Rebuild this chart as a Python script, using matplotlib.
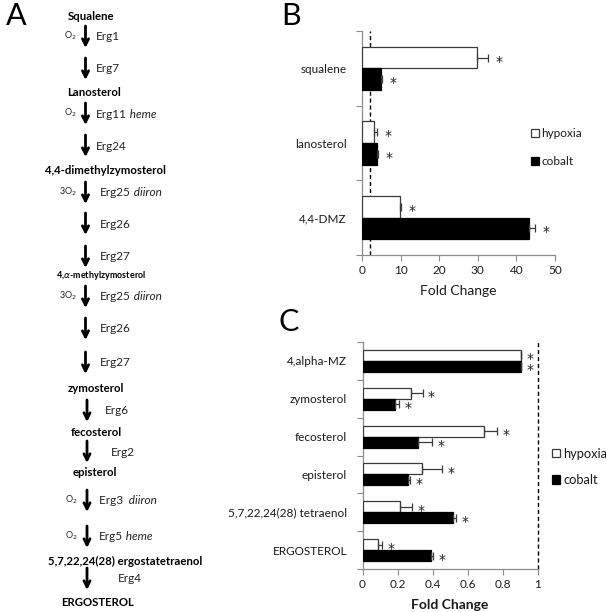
import numpy as np
import matplotlib
matplotlib.use('Agg')
import matplotlib.pyplot as plt

plt.rcParams['font.family'] = ['Lato', 'DejaVu Sans']

# panel B
B_CATS = ['squalene', 'lanosterol', '4,4-DMZ']
B_HYP = [29.7, 3.1, 9.8]
B_HYP_ERR = [3.0, 0.7, 0.4]
B_COB = [5.0, 3.8, 43.2]
B_COB_ERR = [0.3, 0.4, 1.6]
B_TICKS = [0, 10, 20, 30, 40, 50]
B_CUTOFF = 2

# panel C
C_CATS = ['4,alpha-MZ', 'zymosterol', 'fecosterol', 'episterol',
          '5,7,22,24(28) tetraenol', 'ERGOSTEROL']
C_HYP = [0.905, 0.276, 0.697, 0.341, 0.217, 0.090]
C_HYP_ERR = [0.0, 0.067, 0.069, 0.116, 0.065, 0.024]
C_COB = [0.905, 0.185, 0.318, 0.259, 0.516, 0.392]
C_COB_ERR = [0.0, 0.021, 0.080, 0.010, 0.017, 0.010]
C_TICKS = [0, 0.2, 0.4, 0.6, 0.8, 1]
C_TICKLABELS = ['0', '0.2', '0.4', '0.6', '0.8', '1']
C_CUTOFF = 1

# panel A pathway: (kind, content, y in pixels from top)
PATHWAY = [
    ('cpd', 'Squalene', 16),
    ('step', ('O$_2$', 'Erg1', ''), 26),
    ('step', ('', 'Erg7', ''), 58),
    ('cpd', 'Lanosterol', 93),
    ('step', ('O$_2$', 'Erg11', 'heme'), 103),
    ('step', ('', 'Erg24', ''), 135),
    ('cpd', '4,4-dimethylzymosterol', 170),
    ('step', ('3O$_2$', 'Erg25', 'diiron'), 182),
    ('step', ('', 'Erg26', ''), 213),
    ('step', ('', 'Erg27', ''), 246),
    ('cpdsmall', r'4,$\alpha$-methylzymosterol', 276),
    ('step', ('3O$_2$', 'Erg25', 'diiron'), 286),
    ('step', ('', 'Erg26', ''), 318),
    ('step', ('', 'Erg27', ''), 352),
    ('cpd', 'zymosterol', 389),
    ('step2', ('', 'Erg6', ''), 400),
    ('cpd', 'fecosterol', 432),
    ('step2', ('', 'Erg2', ''), 441),
    ('cpd', 'episterol', 472),
    ('step2', ('O$_2$', 'Erg3 ', 'diiron'), 490),
    ('step2', ('O$_2$', 'Erg5', 'heme'), 526),
    ('cpd', '5,7,22,24(28) ergostatetraenol', 561),
    ('step2', ('', 'Erg4', ''), 568),
    ('cpd', 'ERGOSTEROL', 603),
]
CPD_X = {'Squalene': 91, 'Lanosterol': 94, '4,4-dimethylzymosterol': 105,
         r'4,$\alpha$-methylzymosterol': 101, 'zymosterol': 96,
         'fecosterol': 96, 'episterol': 95,
         '5,7,22,24(28) ergostatetraenol': 125, 'ERGOSTEROL': 98}
ENZ_X = {'Erg1': 96, 'Erg7': 96, 'Erg11': 96, 'Erg24': 96, 'Erg25': 100,
         'Erg26': 100, 'Erg27': 100, 'Erg6': 105, 'Erg2': 111, 'Erg3 ': 99,
         'Erg5': 99, 'Erg4': 118}

W, H = 606, 612
fig = plt.figure(figsize=(W / 100, H / 100), dpi=100)

TXT = '#1a1a1a'
SPINE = '#8c8c8c'

# ---------- panel A ----------
axa = fig.add_axes([0, 0, 1, 1])
axa.set_xlim(0, W)
axa.set_ylim(H, 0)
axa.axis('off')
axa.text(16, 16, 'A', fontsize=22, ha='center', va='center', color='k')
axa.text(291, 16, 'B', fontsize=22, ha='center', va='center', color='k')
axa.text(289, 322, 'C', fontsize=22, ha='center', va='center', color='k')

for kind, txt, y in PATHWAY:
    if kind.startswith('cpd'):
        fs = 6.5 if kind == 'cpdsmall' else 8.2
        axa.text(CPD_X[txt], y, txt, fontsize=fs, fontweight='bold',
                 ha='center', va='center', color='k')
    else:
        ox, enz, cof = txt
        ax_x = 85.5 if kind == 'step' else 87
        axa.annotate('', xy=(ax_x, y + 22), xytext=(ax_x, y),
                     arrowprops=dict(arrowstyle='->', lw=2.0, color='k',
                                     mutation_scale=11, shrinkA=0, shrinkB=0))
        ym = y + 11
        if ox:
            axa.text(ax_x - 9, ym - 1, ox, fontsize=6.5, ha='right',
                     va='center', color='#222')
        t = axa.text(ENZ_X[enz], ym, enz, fontsize=8.5, ha='left',
                     va='center', color='#222')
        if cof:
            axa.annotate(' ' + cof, xycoords=t, xy=(1, 0.5), va='center',
                         ha='left', fontsize=8.5, style='italic', color='#222')


def style_axis(ax, lsize):
    for s in ['top', 'right']:
        ax.spines[s].set_visible(False)
    for s in ['left', 'bottom']:
        ax.spines[s].set_color(SPINE)
        ax.spines[s].set_linewidth(0.9)
    ax.tick_params(axis='both', which='major', color=SPINE, length=4,
                   direction='out', labelcolor=TXT, labelsize=8.5)
    ax.tick_params(axis='y', which='major', labelleft=False)
    ax.tick_params(axis='y', which='minor', length=0, pad=11,
                   labelcolor=TXT, labelsize=lsize)


def draw_bars(ax, hyp, hyp_err, cob, cob_err, off):
    n = len(hyp)
    y = np.arange(n)
    h = 0.29
    ax.barh(y - h / 2, hyp, height=h, color='white', edgecolor='#3a3a3a',
            linewidth=0.9, label='hypoxia', zorder=3)
    ax.barh(y + h / 2, cob, height=h, color='black', edgecolor='black',
            linewidth=0.9, label='cobalt', zorder=3)
    for yy, v, e in [(y - h / 2, hyp, hyp_err), (y + h / 2, cob, cob_err)]:
        v = np.array(v)
        e = np.array(e)
        ax.errorbar(v, yy, xerr=[np.zeros(n), e], fmt='none', ecolor='#3a3a3a',
                    elinewidth=0.9, capsize=3, capthick=0.9, zorder=4)
        for xi, yi, ei in zip(v, yy, e):
            ax.annotate('*', xy=(xi + ei, yi), xytext=(off, -8),
                        textcoords='offset pixels', ha='center', va='baseline',
                        fontsize=10, family='DejaVu Sans', color='#222')
    ax.set_ylim(n - 0.5, -0.5)
    ax.set_yticks(np.arange(n + 1) - 0.5)
    ax.set_yticks(y, minor=True)


# ---------- panel B ----------
axb = fig.add_axes([362 / W, 1 - 255 / H, 193 / W, 224 / H])
draw_bars(axb, B_HYP, B_HYP_ERR, B_COB, B_COB_ERR, 11)
axb.set_yticklabels(B_CATS, minor=True)
axb.set_xlim(0, 50)
axb.set_xticks(B_TICKS)
axb.axvline(B_CUTOFF, color='k', ls=(0, (3, 2)), lw=1.0, zorder=2)
axb.set_xlabel('Fold Change', fontsize=10, color=TXT, labelpad=6)
style_axis(axb, 8.5)
axb.legend(loc='center left', bbox_to_anchor=(525 / W, 1 - 147.5 / H),
           bbox_transform=fig.transFigure, borderpad=0, frameon=False,
           handlelength=0.65, handleheight=0.65, handletextpad=0.25,
           labelspacing=1.45, fontsize=8.5, labelcolor=TXT)

# ---------- panel C ----------
axc = fig.add_axes([362.5 / W, 1 - 569 / H, 175 / W, 227 / H])
draw_bars(axc, C_HYP, C_HYP_ERR, C_COB, C_COB_ERR, 9)
axc.set_yticklabels(C_CATS, minor=True)
axc.set_xlim(0, 1)
axc.set_xticks(C_TICKS)
axc.set_xticklabels(C_TICKLABELS)
axc.axvline(C_CUTOFF, color='k', ls=(0, (3, 2)), lw=1.0, zorder=2,
            clip_on=False)
axc.set_xlabel('Fold Change', fontsize=10, fontweight='bold', color=TXT,
               labelpad=6)
style_axis(axc, 8.5)
axc.legend(loc='center left', bbox_to_anchor=(546 / W, 1 - 467 / H),
           bbox_transform=fig.transFigure, borderpad=0, frameon=False,
           handlelength=0.6, handleheight=0.6, handletextpad=0.25,
           labelspacing=1.1, fontsize=9.3, labelcolor=TXT)

fig.savefig('out.png', dpi=100)
